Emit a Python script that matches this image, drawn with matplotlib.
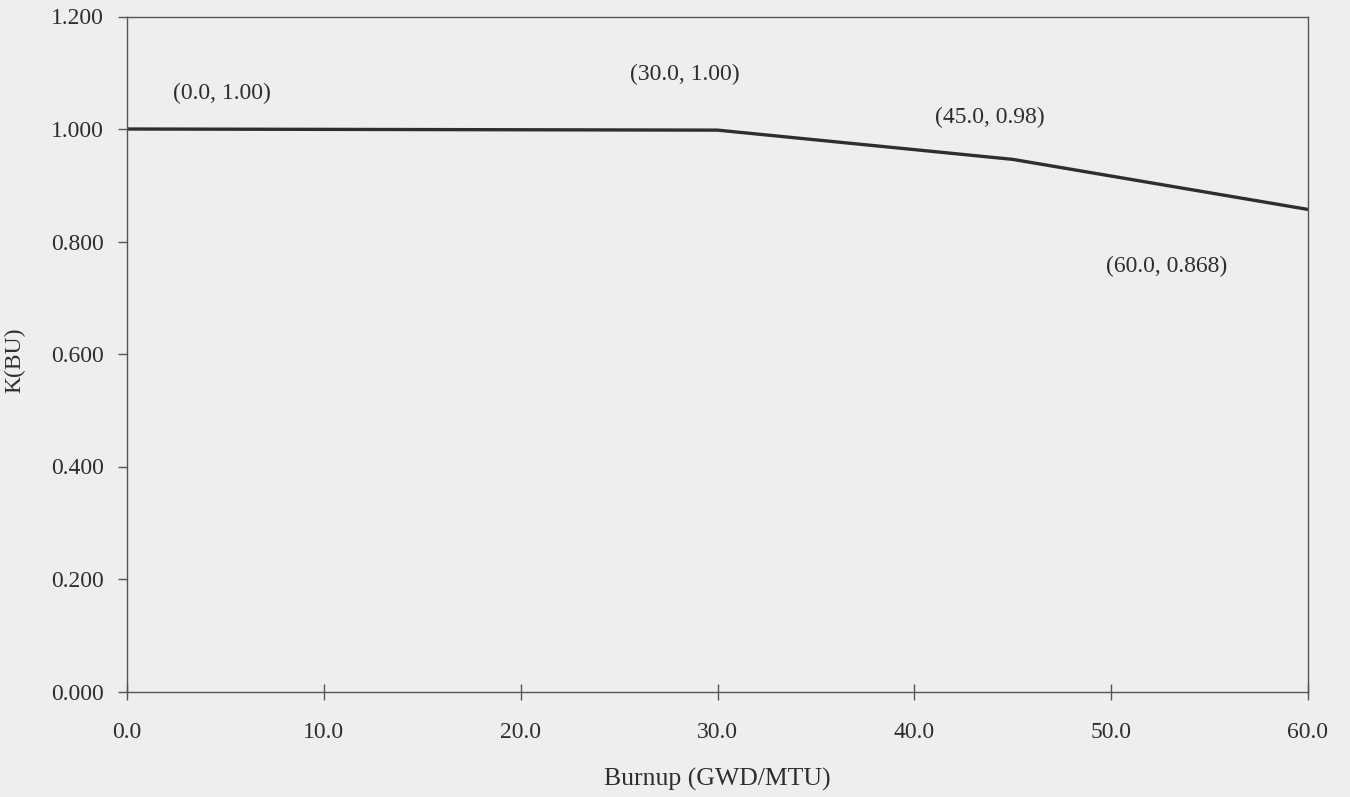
import matplotlib
matplotlib.use("Agg")
import matplotlib.pyplot as plt

# curve as drawn in the figure
burnup = [0.0, 30.0, 45.0, 60.0]
k_bu = [1.000, 0.998, 0.946, 0.857]

# point annotations (text as printed)
note_text = ["(0.0, 1.00)", "(30.0, 1.00)", "(45.0, 0.98)", "(60.0, 0.868)"]
note_x = [4.83, 28.35, 43.84, 52.84]
note_y = [1.063, 1.097, 1.021, 0.756]

x_ticks = [0, 10, 20, 30, 40, 50, 60]
y_ticks = [0.0, 0.2, 0.4, 0.6, 0.8, 1.0, 1.2]

bg = "#eeeeec"
ink = "#2e2e2e"
fs = 17
plt.rcParams["font.family"] = ["Liberation Serif", "DejaVu Serif"]

fig = plt.figure(figsize=(13.5, 7.97), dpi=100, facecolor=bg)
ax = fig.add_axes([127 / 1350, 1 - 691.5 / 797, 1181 / 1350, 675 / 797])
ax.set_facecolor(bg)

ax.plot(burnup, k_bu, color=ink, lw=2.4, solid_capstyle="butt")

for t, x, y in zip(note_text, note_x, note_y):
    ax.text(x, y, t, ha="center", va="center", fontsize=fs, color=ink)

ax.set_xlim(0, 60)
ax.set_ylim(0, 1.2)
ax.set_xticks(x_ticks)
ax.set_xticklabels([f"{v:.1f}" for v in x_ticks])
ax.set_yticks(y_ticks)
ax.set_yticklabels([f"{v:.3f}" for v in y_ticks])

for s in ax.spines.values():
    s.set_color("#555555")
    s.set_linewidth(1.0)

ax.tick_params(axis="x", direction="inout", length=11.5, width=1.0, color="#555555",
               pad=16, labelsize=fs, labelcolor=ink)
ax.tick_params(axis="y", direction="out", length=6.5, width=1.0, color="#555555",
               pad=10, labelsize=fs, labelcolor=ink)

ax.set_xlabel("Burnup (GWD/MTU)", fontsize=18.5, color=ink, labelpad=18)
fig.text(15 / 1350, 1 - 360 / 797, "K(BU)", rotation=90, ha="center", va="center",
         fontsize=fs, color=ink)

fig.savefig("out.png", dpi=100, facecolor=bg)
